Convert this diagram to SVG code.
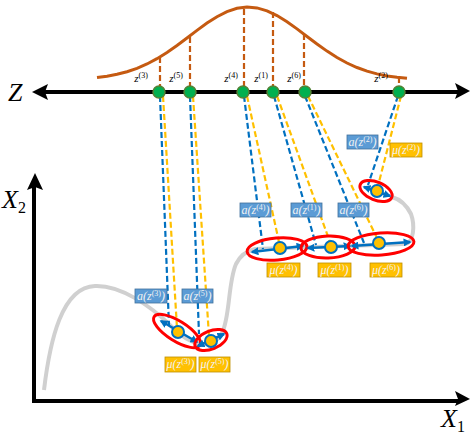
<svg xmlns="http://www.w3.org/2000/svg" width="473" height="438" viewBox="0 0 473 438">
<style>
.ax{stroke:#000;stroke-width:4;fill:none}
.gauss{stroke:#C55A11;stroke-width:3;fill:none}
.gd{stroke:#C55A11;stroke-width:2.2;stroke-dasharray:6,3;fill:none}
.bd{stroke:#0070C0;stroke-width:2.2;stroke-dasharray:6,3;fill:none}
.yd{stroke:#FFC000;stroke-width:2.2;stroke-dasharray:6,3;fill:none}
.ell{stroke:#FF0000;stroke-width:3;fill:none}
.barr{stroke:#0070C0;stroke-width:2.5;fill:none;marker-start:url(#ah);marker-end:url(#ah)}
.zd{fill:#00B050;stroke:#548235;stroke-width:1.5}
.md{fill:#FFC000;stroke:#0070C0;stroke-width:2}
.ab{fill:#5B9BD5;stroke:#41719C;stroke-width:0.8}
.mb{fill:#FFC000;stroke:#BF9000;stroke-width:0.8}
.lt{font-family:"Liberation Serif",serif;font-style:italic;font-size:12px;fill:#F2F2F2;text-anchor:middle}
.zt{font-family:"Liberation Serif",serif;font-style:italic;font-size:11px;fill:#000;text-anchor:middle}
.sup{font-size:8px;font-style:normal}
.big{font-family:"Liberation Serif",serif;font-style:italic;font-size:26px;fill:#000}
</style>
<defs>
<marker id="ah" viewBox="0 0 10 10" refX="8" refY="5" markerWidth="3.2" markerHeight="3.2" orient="auto-start-reverse">
<path d="M0,0 L10,5 L0,10 z" fill="#0070C0"/>
</marker>
</defs>

<g id="gaussian">
<polyline class="gauss" points="97,77.5 107,76.2 117,74.3 127,71.7 137,68.3 147,64 157,58.7 167,52.5 177,45.5 187,38 197,30.4 207,23.1 217,16.7 227,11.6 237,8.3 247,7 257,7.9 267,10.8 277,15.6 287,21.8 297,28.9 307,36.5 317,44 327,51.1 337,57.5 347,63 357,67.5 367,71.1 377,73.9 387,75.9 397,77.3 407,78.3"/>
<line class="gd" x1="160" y1="57" x2="160" y2="88"/>
<line class="gd" x1="190" y1="37" x2="190" y2="88"/>
<line class="gd" x1="244" y1="9" x2="244" y2="88"/>
<line class="gd" x1="273" y1="12" x2="273" y2="88"/>
<line class="gd" x1="304" y1="34" x2="304" y2="88"/>
<line class="gd" x1="399" y1="77" x2="399" y2="88"/>
</g>

<g id="z-axis">
<line class="ax" x1="44" y1="92" x2="458" y2="92"/>
<polygon points="32,92 48,84 45,92 48,100" fill="#000"/>
<polygon points="470,91 455,83 458,91 455,99" fill="#000"/>
<text class="big" x="8" y="101">Z</text>
</g>

<g id="x-axes">
<line class="ax" x1="34" y1="403" x2="34" y2="185"/>
<line class="ax" x1="32" y1="401" x2="458" y2="401"/>
<polygon points="35,173 27,190 35,187 43,190" fill="#000"/>
<polygon points="470,399 455,391 458,399 455,406" fill="#000"/>
<text class="big" x="2" y="208" font-size="24">X<tspan font-style="normal" font-size="16" dy="5">2</tspan></text>
<text class="big" x="441" y="427" font-size="24">X<tspan font-style="normal" font-size="16" dy="5">1</tspan></text>
</g>

<g id="manifold">
<path d="M44,390 C50,340 62,287 95,286 C120,285 150,305 172,327 C190,345 212,352 222,333 C230,318 228,282 236,264 C240,256 246,251 255,249 L405,244 C414,243 415,225 411,214 C406,204 399,199 392,197" stroke="#D0D0D0" stroke-width="4" fill="none"/>
</g>

<g id="connectors">
<line class="bd" x1="160" y1="96" x2="169" y2="326"/>
<line class="yd" x1="163" y1="96" x2="177" y2="328"/>
<line class="bd" x1="190" y1="96" x2="199" y2="334"/>
<line class="yd" x1="193" y1="96" x2="209" y2="336"/>
<line class="bd" x1="244" y1="96" x2="263" y2="249"/>
<line class="yd" x1="247" y1="96" x2="279" y2="242"/>
<line class="bd" x1="274" y1="96" x2="316" y2="245"/>
<line class="yd" x1="277" y1="96" x2="330" y2="242"/>
<line class="bd" x1="305" y1="96" x2="364" y2="243"/>
<line class="yd" x1="308" y1="96" x2="377" y2="238"/>
<line class="bd" x1="398" y1="96" x2="368" y2="185"/>
<line class="yd" x1="401" y1="96" x2="378" y2="186"/>
</g>

<g id="node-z3"><circle class="zd" cx="159" cy="92" r="6"/><text class="zt" x="141" y="82">z<tspan class="sup" dy="-4">(3)</tspan></text></g>
<g id="node-z5"><circle class="zd" cx="190" cy="92" r="6"/><text class="zt" x="176" y="82">z<tspan class="sup" dy="-4">(5)</tspan></text></g>
<g id="node-z4"><circle class="zd" cx="243" cy="92" r="6"/><text class="zt" x="231" y="82">z<tspan class="sup" dy="-4">(4)</tspan></text></g>
<g id="node-z1"><circle class="zd" cx="273" cy="92" r="6"/><text class="zt" x="261" y="82">z<tspan class="sup" dy="-4">(1)</tspan></text></g>
<g id="node-z6"><circle class="zd" cx="305" cy="92" r="6"/><text class="zt" x="294" y="82">z<tspan class="sup" dy="-4">(6)</tspan></text></g>
<g id="node-z2"><circle class="zd" cx="399" cy="92" r="6"/><text class="zt" x="381" y="82">z<tspan class="sup" dy="-4">(2)</tspan></text></g>

<g id="node-x3">
<ellipse class="ell" cx="177" cy="331" rx="27" ry="10" transform="rotate(32 177 331)"/>
<line class="barr" x1="161" y1="321" x2="197" y2="342"/>
<circle class="md" cx="178" cy="332" r="6"/>
<rect class="ab" x="135" y="289" width="32" height="14"/>
<text class="lt" x="151" y="300">a(z<tspan class="sup" dy="-4">(3)</tspan><tspan dy="4">)</tspan></text>
<rect class="mb" x="165" y="357" width="31" height="15"/>
<text class="lt" x="180.5" y="368">μ(z<tspan class="sup" dy="-4">(3)</tspan><tspan dy="4">)</tspan></text>
</g>

<g id="node-x5">
<ellipse class="ell" cx="211" cy="340" rx="17" ry="9" transform="rotate(-22 211 340)"/>
<line class="barr" x1="198" y1="346" x2="224" y2="334"/>
<circle class="md" cx="211" cy="341" r="6"/>
<rect class="ab" x="182" y="289" width="31" height="14"/>
<text class="lt" x="197.5" y="300">a(z<tspan class="sup" dy="-4">(5)</tspan><tspan dy="4">)</tspan></text>
<rect class="mb" x="199" y="357" width="31" height="15"/>
<text class="lt" x="214.5" y="368">μ(z<tspan class="sup" dy="-4">(5)</tspan><tspan dy="4">)</tspan></text>
</g>

<g id="node-x4">
<ellipse class="ell" cx="277" cy="249" rx="30" ry="11" transform="rotate(-5 277 249)"/>
<line class="barr" x1="252" y1="252" x2="303" y2="246"/>
<circle class="md" cx="280" cy="248" r="6"/>
<rect class="ab" x="240" y="203" width="31" height="14"/>
<text class="lt" x="255.5" y="214">a(z<tspan class="sup" dy="-4">(4)</tspan><tspan dy="4">)</tspan></text>
<rect class="mb" x="267" y="263" width="33" height="14"/>
<text class="lt" x="283.5" y="274">μ(z<tspan class="sup" dy="-4">(4)</tspan><tspan dy="4">)</tspan></text>
</g>

<g id="node-x1">
<ellipse class="ell" cx="328" cy="247" rx="27" ry="11" transform="rotate(-2 328 247)"/>
<line class="barr" x1="308" y1="248" x2="350" y2="246"/>
<circle class="md" cx="331" cy="247" r="6"/>
<rect class="ab" x="291" y="203" width="31" height="14"/>
<text class="lt" x="306.5" y="214">a(z<tspan class="sup" dy="-4">(1)</tspan><tspan dy="4">)</tspan></text>
<rect class="mb" x="318" y="263" width="33" height="14"/>
<text class="lt" x="334.5" y="274">μ(z<tspan class="sup" dy="-4">(1)</tspan><tspan dy="4">)</tspan></text>
</g>

<g id="node-x6">
<ellipse class="ell" cx="381" cy="244" rx="33" ry="11" transform="rotate(-4 381 244)"/>
<line class="barr" x1="352" y1="246" x2="410" y2="242"/>
<circle class="md" cx="379" cy="243" r="6"/>
<rect class="ab" x="338" y="203" width="31" height="14"/>
<text class="lt" x="353.5" y="214">a(z<tspan class="sup" dy="-4">(6)</tspan><tspan dy="4">)</tspan></text>
<rect class="mb" x="370" y="263" width="32" height="14"/>
<text class="lt" x="386" y="274">μ(z<tspan class="sup" dy="-4">(6)</tspan><tspan dy="4">)</tspan></text>
</g>

<g id="node-x2">
<ellipse class="ell" cx="376" cy="191" rx="17" ry="9" transform="rotate(22 376 191)"/>
<line class="barr" x1="364" y1="187" x2="390" y2="196"/>
<circle class="md" cx="377" cy="191" r="6"/>
<rect class="ab" x="347" y="135" width="31" height="14"/>
<text class="lt" x="362.5" y="146">a(z<tspan class="sup" dy="-4">(2)</tspan><tspan dy="4">)</tspan></text>
<rect class="mb" x="390" y="143" width="32" height="14"/>
<text class="lt" x="406" y="154">μ(z<tspan class="sup" dy="-4">(2)</tspan><tspan dy="4">)</tspan></text>
</g>
</svg>
